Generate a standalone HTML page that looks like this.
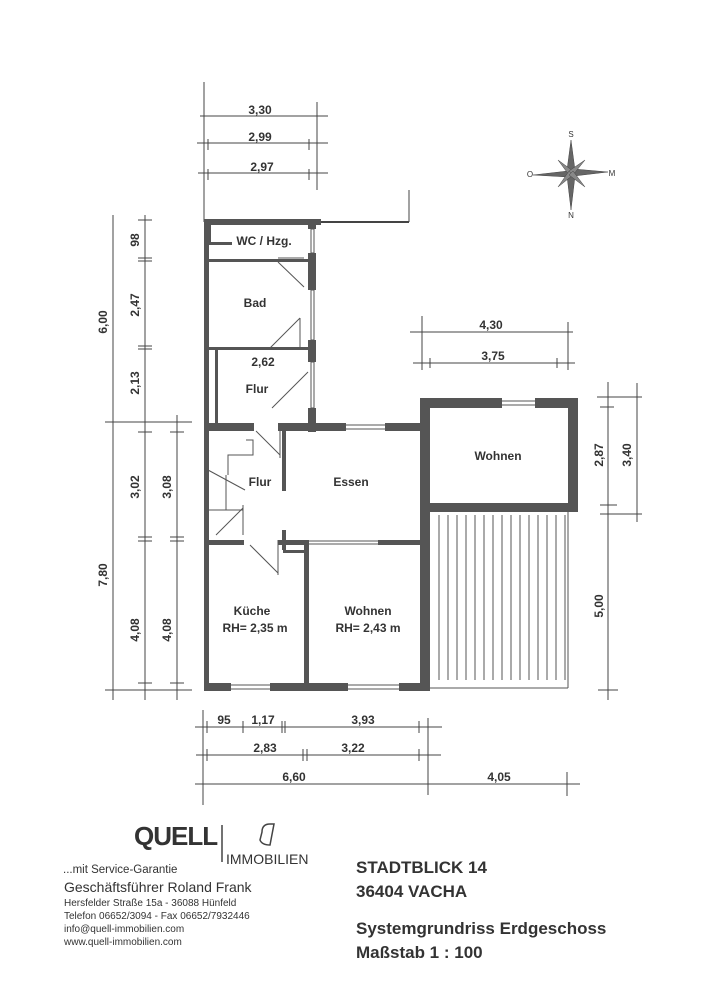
<!DOCTYPE html>
<html><head><meta charset="utf-8"><style>
html,body{margin:0;padding:0;background:#fff;}
svg{display:block;}
text{font-family:"Liberation Sans",sans-serif;fill:#333;}
</style></head><body>
<svg width="707" height="1000" viewBox="0 0 707 1000" xmlns="http://www.w3.org/2000/svg">
<g stroke="#444" stroke-width="1" fill="none">
<!-- top dims -->
<line x1="204" y1="82" x2="204" y2="222"/>
<line x1="317" y1="102" x2="317" y2="190"/>
<line x1="200" y1="116" x2="328" y2="116"/>
<line x1="197" y1="143" x2="328" y2="143"/>
<line x1="208" y1="139" x2="208" y2="150"/><line x1="309" y1="139" x2="309" y2="150"/>
<line x1="198" y1="173" x2="328" y2="173"/>
<line x1="208" y1="169" x2="208" y2="180"/><line x1="309" y1="169" x2="309" y2="180"/>
<!-- left dims -->
<line x1="113" y1="215" x2="113" y2="700"/>
<line x1="145" y1="215" x2="145" y2="700"/>
<line x1="177" y1="415" x2="177" y2="700"/>
<line x1="105" y1="422" x2="192" y2="422"/>
<line x1="105" y1="690" x2="192" y2="690"/>
<line x1="138" y1="220" x2="152" y2="220"/>
<line x1="138" y1="258" x2="152" y2="258"/><line x1="138" y1="261" x2="152" y2="261"/>
<line x1="138" y1="346" x2="152" y2="346"/><line x1="138" y1="349" x2="152" y2="349"/>
<line x1="138" y1="432" x2="152" y2="432"/><line x1="170" y1="432" x2="184" y2="432"/>
<line x1="138" y1="537" x2="152" y2="537"/><line x1="138" y1="541" x2="152" y2="541"/>
<line x1="170" y1="537" x2="184" y2="537"/><line x1="170" y1="541" x2="184" y2="541"/>
<line x1="138" y1="683" x2="152" y2="683"/><line x1="170" y1="683" x2="184" y2="683"/>
<!-- right dims -->
<line x1="608" y1="382" x2="608" y2="700"/>
<line x1="637" y1="383" x2="637" y2="522"/>
<line x1="597" y1="397" x2="642" y2="397"/>
<line x1="600" y1="407" x2="614" y2="407"/>
<line x1="600" y1="505" x2="617" y2="505"/>
<line x1="600" y1="514" x2="642" y2="514"/>
<line x1="598" y1="690" x2="618" y2="690"/>
<!-- mid dims -->
<line x1="410" y1="332" x2="573" y2="332"/>
<line x1="422" y1="316" x2="422" y2="370"/>
<line x1="568" y1="322" x2="568" y2="370"/>
<line x1="413" y1="363" x2="575" y2="363"/>
<line x1="430" y1="358" x2="430" y2="368"/><line x1="557" y1="358" x2="557" y2="368"/>
<!-- bottom dims -->
<line x1="203" y1="710" x2="203" y2="805"/>
<line x1="428" y1="718" x2="428" y2="795"/>
<line x1="195" y1="727" x2="442" y2="727"/>
<line x1="207" y1="721" x2="207" y2="733"/><line x1="243" y1="721" x2="243" y2="733"/>
<line x1="282" y1="721" x2="282" y2="733"/><line x1="285" y1="721" x2="285" y2="733"/>
<line x1="419" y1="721" x2="419" y2="733"/>
<line x1="196" y1="755" x2="441" y2="755"/>
<line x1="207" y1="749" x2="207" y2="761"/><line x1="303" y1="749" x2="303" y2="761"/><line x1="307" y1="749" x2="307" y2="761"/><line x1="419" y1="749" x2="419" y2="761"/>
<line x1="195" y1="784" x2="580" y2="784"/>
<line x1="567" y1="772" x2="567" y2="796"/>
<!-- upper open outline -->
<line x1="204" y1="190" x2="204" y2="222"/>
<line x1="409" y1="190" x2="409" y2="222"/>
<line x1="318" y1="222" x2="409" y2="222" stroke-width="2"/>
</g>
<!-- walls -->
<g fill="#555">
<rect x="204" y="219" width="5" height="472"/>
<rect x="204" y="219" width="117" height="6"/>
<rect x="208" y="225" width="3" height="20"/><rect x="208" y="242" width="24" height="3"/>
<rect x="208" y="259" width="100" height="3"/>
<rect x="308" y="219" width="8" height="10"/><rect x="308" y="253" width="8" height="37"/>
<rect x="308" y="340" width="8" height="22"/><rect x="308" y="408" width="8" height="24"/>
<rect x="208" y="347" width="100" height="3"/>
<rect x="215" y="350" width="3" height="74"/>
<rect x="204" y="423" width="50" height="8"/>
<rect x="278" y="423" width="68" height="8"/><rect x="385" y="423" width="37" height="8"/>
<rect x="282" y="431" width="4" height="60"/><rect x="282" y="530" width="4" height="20"/>
<rect x="420" y="398" width="10" height="292"/>
<rect x="420" y="398" width="82" height="10"/><rect x="535" y="398" width="43" height="10"/>
<rect x="568" y="398" width="10" height="112"/>
<rect x="420" y="503" width="158" height="9"/>
<rect x="204" y="540" width="40" height="5"/><rect x="278" y="540" width="30" height="5"/>
<rect x="304" y="540" width="5" height="150"/>
<rect x="283" y="550" width="25" height="3"/>
<rect x="378" y="540" width="42" height="5"/>
<rect x="204" y="683" width="27" height="8"/><rect x="270" y="683" width="78" height="8"/><rect x="399" y="683" width="31" height="8"/>
</g>
<g stroke="#555" stroke-width="1" fill="none">
<!-- windows -->
<rect x="311" y="229" width="3" height="24"/><rect x="311" y="290" width="3" height="50"/><rect x="311" y="362" width="3" height="46"/>
<line x1="346" y1="425" x2="385" y2="425"/><line x1="346" y1="429" x2="385" y2="429"/>
<line x1="502" y1="401" x2="535" y2="401"/><line x1="502" y1="405" x2="535" y2="405"/>
<line x1="423" y1="445" x2="423" y2="480"/><line x1="427" y1="445" x2="427" y2="480"/>
<line x1="309" y1="541" x2="378" y2="541"/><line x1="309" y1="544" x2="378" y2="544"/>
<line x1="231" y1="685" x2="270" y2="685"/><line x1="231" y1="689" x2="270" y2="689"/>
<line x1="348" y1="685" x2="399" y2="685"/><line x1="348" y1="689" x2="399" y2="689"/>
<!-- doors -->
<line x1="278" y1="262" x2="304" y2="287"/><line x1="278" y1="258" x2="304" y2="258"/>
<line x1="270" y1="348" x2="300" y2="318"/><line x1="300" y1="318" x2="300" y2="348"/>
<line x1="272" y1="408" x2="308" y2="372"/>
<line x1="256" y1="431" x2="280" y2="455"/><line x1="280" y1="423" x2="280" y2="458"/>
<line x1="250" y1="545" x2="278" y2="573"/><line x1="278" y1="540" x2="278" y2="575"/>
<line x1="216" y1="535" x2="243" y2="508"/><line x1="243" y1="505" x2="243" y2="535"/>
<!-- stairs -->
<polyline points="228,475 228,455 253,455 253,440 246,440"/>
<line x1="226" y1="475" x2="226" y2="510"/>
<line x1="208" y1="470" x2="245" y2="490"/>
<line x1="208" y1="510" x2="243" y2="510"/>
<!-- terrace -->
<line x1="568" y1="512" x2="568" y2="688"/><line x1="430" y1="688" x2="568" y2="688"/>
</g>
<g stroke="#555" stroke-width="1">
<line x1="439" y1="515" x2="439" y2="680"/><line x1="448" y1="515" x2="448" y2="680"/><line x1="457" y1="515" x2="457" y2="680"/><line x1="466" y1="515" x2="466" y2="680"/><line x1="475" y1="515" x2="475" y2="680"/><line x1="484" y1="515" x2="484" y2="680"/><line x1="493" y1="515" x2="493" y2="680"/><line x1="502" y1="515" x2="502" y2="680"/><line x1="511" y1="515" x2="511" y2="680"/><line x1="520" y1="515" x2="520" y2="680"/><line x1="529" y1="515" x2="529" y2="680"/><line x1="538" y1="515" x2="538" y2="680"/><line x1="547" y1="515" x2="547" y2="680"/><line x1="556" y1="515" x2="556" y2="680"/><line x1="565" y1="515" x2="565" y2="680"/>
</g>
<!-- compass -->
<g fill="#666" stroke="#444" stroke-width="0.5">
<polygon points="571,140 575,170 571,173 567,170"/>
<polygon points="571,210 575,176 571,173 567,176"/>
<polygon points="533,175 568,171 571,173 568,177"/>
<polygon points="608,172 574,169 571,173 574,176"/>
<polygon points="558,160 573,171 571,173 569,175" fill="#888"/>
<polygon points="585,160 573,175 571,173 569,171" fill="#888"/>
<polygon points="558,187 569,171 571,173 573,175" fill="#888"/>
<polygon points="585,187 569,175 571,173 573,171" fill="#888"/>
</g>
<g font-size="8"><text x="571" y="137" text-anchor="middle">S</text><text x="571" y="218" text-anchor="middle">N</text><text x="530" y="177" text-anchor="middle">O</text><text x="612" y="176" text-anchor="middle">M</text></g>
<!-- dim labels -->
<g font-size="12" font-weight="bold" text-anchor="middle">
<text x="260" y="114">3,30</text><text x="260" y="141">2,99</text><text x="262" y="171">2,97</text>
<text x="491" y="329">4,30</text><text x="493" y="360">3,75</text>
<text x="263" y="366">2,62</text>
<text x="224" y="724">95</text><text x="263" y="724">1,17</text><text x="363" y="724">3,93</text>
<text x="265" y="752">2,83</text><text x="353" y="752">3,22</text>
<text x="294" y="781">6,60</text><text x="499" y="781">4,05</text>
<text transform="translate(107,322) rotate(-90)">6,00</text>
<text transform="translate(139,240) rotate(-90)">98</text>
<text transform="translate(139,305) rotate(-90)">2,47</text>
<text transform="translate(139,383) rotate(-90)">2,13</text>
<text transform="translate(139,487) rotate(-90)">3,02</text>
<text transform="translate(171,487) rotate(-90)">3,08</text>
<text transform="translate(107,575) rotate(-90)">7,80</text>
<text transform="translate(139,630) rotate(-90)">4,08</text>
<text transform="translate(171,630) rotate(-90)">4,08</text>
<text transform="translate(603,455) rotate(-90)">2,87</text>
<text transform="translate(631,455) rotate(-90)">3,40</text>
<text transform="translate(603,606) rotate(-90)">5,00</text>
</g>
<!-- room labels -->
<g font-size="12" font-weight="bold" text-anchor="middle">
<text x="264" y="245">WC / Hzg.</text>
<text x="255" y="307">Bad</text>
<text x="257" y="393">Flur</text>
<text x="260" y="486">Flur</text>
<text x="351" y="486">Essen</text>
<text x="498" y="460">Wohnen</text>
<text x="252" y="615">Küche</text>
<text x="255" y="632">RH=  2,35 m</text>
<text x="368" y="615">Wohnen</text>
<text x="368" y="632">RH=  2,43 m</text>
</g>
<!-- footer -->
<text x="134" y="845" font-size="26" font-weight="bold" fill="#555" style="letter-spacing:-1px">QUELL</text>
<line x1="222" y1="825" x2="222" y2="862" stroke="#444" stroke-width="1.5"/>
<path d="M262 832 Q262 824 270 824 L274 824 L270 845 Q262 845 260 840 Z" fill="none" stroke="#444" stroke-width="1.5"/>
<text x="226" y="864" font-size="14" fill="#444">IMMOBILIEN</text>
<text x="63" y="873" font-size="11.5" fill="#333">...mit Service-Garantie</text>
<text x="64" y="892" font-size="14" fill="#333">Geschäftsführer Roland Frank</text>
<text x="64" y="906" font-size="10" fill="#333">Hersfelder Straße 15a - 36088 Hünfeld</text>
<text x="64" y="919" font-size="10" fill="#333">Telefon 06652/3094 - Fax 06652/7932446</text>
<text x="64" y="932" font-size="10" fill="#333">info@quell-immobilien.com</text>
<text x="64" y="945" font-size="10" fill="#333">www.quell-immobilien.com</text>
<g font-size="17" font-weight="bold" fill="#555">
<text x="356" y="873">STADTBLICK 14</text>
<text x="356" y="897">36404 VACHA</text>
<text x="356" y="934">Systemgrundriss Erdgeschoss</text>
<text x="356" y="958">Maßstab  1 : 100</text>
</g>
</svg>
</body></html>
